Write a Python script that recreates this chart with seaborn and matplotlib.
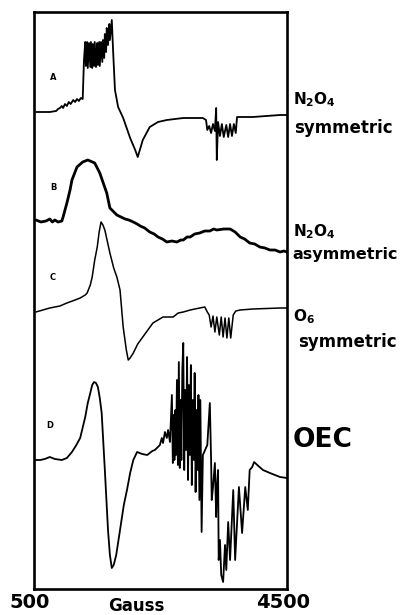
import matplotlib
matplotlib.use("Agg")
import matplotlib.pyplot as plt
import seaborn as sns
import pandas as pd

# ---- data: field (Gauss) and derivative intensity (arbitrary units) ----
field_A = [530, 750, 850, 880, 910, 940, 960, 990, 1020, 1050, 1080, 1120, 1150, 1180, 1210, 1240, 1270,
           1290, 1310, 1320, 1340, 1350, 1370, 1390, 1400, 1420, 1430, 1450, 1460, 1480, 1500, 1510, 1530,
           1540, 1560, 1580, 1590, 1610, 1620, 1640, 1650, 1670, 1690, 1700, 1730,
           1750, 1780, 1830, 1910, 2020, 2100, 2140, 2220, 2330, 2460, 2600, 2860, 3170, 3220,
           3240, 3270, 3300, 3330, 3360, 3380, 3390, 3410, 3440, 3470, 3500, 3540, 3570, 3600, 3630,
           3660, 3690, 3710, 3960, 4390, 4500]
signal_A = [0, 0, 1, 3, 4, 6, 4, 8, 6, 10, 8, 12, 10, 13, 11, 14, 13,
            52, 70, 46, 70, 44, 69, 45, 70, 44, 68, 46, 70, 45, 69, 47, 70,
            46, 70, 50, 72, 54, 78, 60, 84, 67, 88, 72, 92,
            62, 22, 5, -6, -26, -38, -45, -28, -15, -10, -8, -6, -6, -8,
            -18, -14, -21, -12, -19, 4, -48, -10, -24, -12, -25, -13, -25, -12, -24,
            -12, -21, -5, -5, -3, -3]

field_B = [530, 610, 690, 750, 790, 830, 880, 940, 960, 1020, 1070, 1100, 1180, 1270, 1350, 1460, 1540,
           1650, 1700, 1810, 1940, 2000, 2070, 2130, 2180, 2250, 2330, 2400, 2460, 2530, 2600, 2680,
           2760, 2820, 2860, 2920, 2970, 3040, 3120, 3200, 3280, 3340, 3390, 3500, 3600, 3680, 3760,
           3830, 3910, 3990, 4070, 4150, 4230, 4310, 4390, 4450, 4500]
signal_B = [0, -2, -1, 1, -2, 0, -2, -1, 3, 17, 30, 40, 53, 58, 60, 57, 47,
            27, 12, 5, 1, 0, -2, -4, -6, -8, -12, -14, -17, -19, -22, -21,
            -22, -20, -20, -17, -17, -14, -13, -11, -11, -9, -10, -9, -9, -12, -17,
            -19, -23, -24, -27, -28, -30, -30, -32, -31, -32]

field_C = [530, 750, 910, 1020, 1150, 1230, 1310, 1340, 1390, 1420, 1460, 1500, 1530, 1560, 1590,
           1620, 1700, 1760, 1810, 1860, 1910, 1960, 1990, 2020, 2070, 2140, 2220, 2380, 2540, 2700,
           2780, 2860, 2970, 3120, 3200, 3240,
           3270, 3300, 3330, 3360, 3390, 3430, 3460, 3490, 3520, 3550, 3580, 3610, 3650, 3690,
           3760, 3960, 4390, 4500]
signal_C = [1, 5, 7, 10, 13, 15, 18, 20, 28, 36, 53, 66, 81, 91, 88,
            83, 60, 45, 36, 23, -14, -37, -47, -45, -40, -31, -24, -10, -4, -4,
            0, 1, 3, 5, 6, 1,
            -2, -14, -3, -19, -4, -22, -4, -24, -5, -25, -5, -25, -2, 2,
            3, 4, 5, 5]

field_D = [500, 600, 670, 750, 830, 940, 1020, 1100, 1160, 1230, 1310, 1350, 1390, 1420, 1450, 1480,
           1510, 1540, 1570, 1620, 1670, 1700, 1730, 1760, 1800, 1860, 1920, 1970, 2020, 2070, 2130,
           2210, 2290, 2370, 2410, 2460, 2490, 2520, 2540, 2570, 2600, 2620, 2650,
           2680, 2695, 2710, 2720, 2735, 2745, 2760, 2775, 2790, 2805, 2815, 2830, 2845, 2860, 2875,
           2890, 2905, 2920, 2935, 2950, 2965, 2980, 2995, 3010, 3025, 3040, 3055, 3070, 3085,
           3100, 3115, 3130, 3150, 3170, 3240, 3280, 3300, 3310, 3330, 3360, 3380, 3390, 3410,
           3420, 3440, 3460, 3490, 3520, 3540, 3570, 3600, 3650, 3680, 3740, 3790, 3840, 3880, 3910,
           3950, 3980, 4030, 4120, 4230, 4390, 4500]
signal_D = [0, 0, 1, 3, 1, 0, 2, 8, 14, 22, 43, 57, 67, 75, 78, 77,
            73, 62, 47, -10, -70, -95, -108, -105, -95, -70, -45, -30, -13, 0, 8,
            6, 5, 9, 10, 13, 15, 22, 17, 28, 22, 30, 18,
            65, -3, 45, 0, 50, 5, 80, -5, 98, -8, 60, 0, 90, 117, -10,
            70, 10, 103, -20, 75, 5, 95, -25, 60, 0, 87, -32, 50, -10,
            65, -40, 60, -72, 5, 15, 57, 0, -40, -27, -3, -57, -30, -10,
            -100, -80, -115, -122, -85, -110, -62, -100, -30, -100, -27, -73, -27, -50, -10,
            -7, -2, -5, -10, -13, -17, -18]

trace_names = ["A", "B", "C", "D"]
trace_offsets = [477, 369, 276, 129]
x_tick_values = [500, 4500]
x_tick_labels = ["500", "4500"]

# ---- build a long-form table ----
frames = []
for name, f, s, off in zip(trace_names, [field_A, field_B, field_C, field_D],
                           [signal_A, signal_B, signal_C, signal_D], trace_offsets):
    frames.append(pd.DataFrame({"field": f, "y": [v + off for v in s],
                                "trace": name, "order": range(len(f))}))
df = pd.concat(frames, ignore_index=True)

sns.set_theme(style="white")
plt.rcParams["font.family"] = ["DejaVu Sans"]
plt.rcParams["text.color"] = "black"
plt.rcParams["mathtext.fontset"] = "custom"
plt.rcParams["mathtext.bf"] = "DejaVu Sans:bold"
plt.rcParams["mathtext.rm"] = "DejaVu Sans:bold"

fig = plt.figure(figsize=(4.07, 6.15), dpi=100)
ax = fig.add_axes([34 / 407, 1 - 589 / 615, 253 / 407, 577 / 615])

widths = {"A": 1.3, "B": 2.0, "C": 1.1, "D": 1.3}
for name in trace_names:
    sub = df[df["trace"] == name]
    sns.lineplot(data=sub, x="field", y="y", sort=False, estimator=None, ax=ax,
                 color="black", lw=widths[name], legend=False)

ax.set_xlim(500, 4500)
ax.set_ylim(0, 577)
ax.set_xlabel("")
ax.set_ylabel("")
ax.set_yticks([])
ax.set_xticks(x_tick_values)
ax.set_xticklabels([])
ax.tick_params(axis="x", length=0)
for sp in ax.spines.values():
    sp.set_visible(True)
    sp.set_color("black")
    sp.set_linewidth(1.9)

# bottom labels
fig.text(30 / 407, 1 - 603 / 615, x_tick_labels[0], ha="center", va="center",
         fontsize=14, fontweight="bold", color="black")
fig.text(283 / 407, 1 - 603 / 615, x_tick_labels[1], ha="center", va="center",
         fontsize=14, fontweight="bold", color="black")
fig.text(136 / 407, 1 - 606 / 615, "Gauss", ha="center", va="center",
         fontsize=12, fontweight="bold", color="black")

# trace letters
letter_pos = {"A": (800, 512), "B": (800, 402), "C": (800, 311), "D": (753, 164)}
for name in trace_names:
    x, y = letter_pos[name]
    ax.text(x, y, name, ha="center", va="center", fontsize=6, fontweight="bold", color="black")

# right-hand labels
xr = 4590
kw = dict(ha="left", va="center", clip_on=False, color="black")
ax.text(xr, 489, r"$\mathbf{N_2O_4}$", fontsize=11, **kw)
ax.text(xr + 30, 461, "symmetric", fontsize=12, fontweight="bold", **kw)
ax.text(xr, 357, r"$\mathbf{N_2O_4}$", fontsize=11, **kw)
ax.text(xr, 334, "asymmetric", fontsize=11.5, fontweight="bold", **kw)
ax.text(xr, 272, r"$\mathbf{O_6}$", fontsize=11, **kw)
ax.text(xr + 80, 247, "symmetric", fontsize=12, fontweight="bold", **kw)
ax.text(xr, 149, "OEC", fontsize=19, fontweight="bold", **kw)

fig.savefig("out.png", dpi=100)
